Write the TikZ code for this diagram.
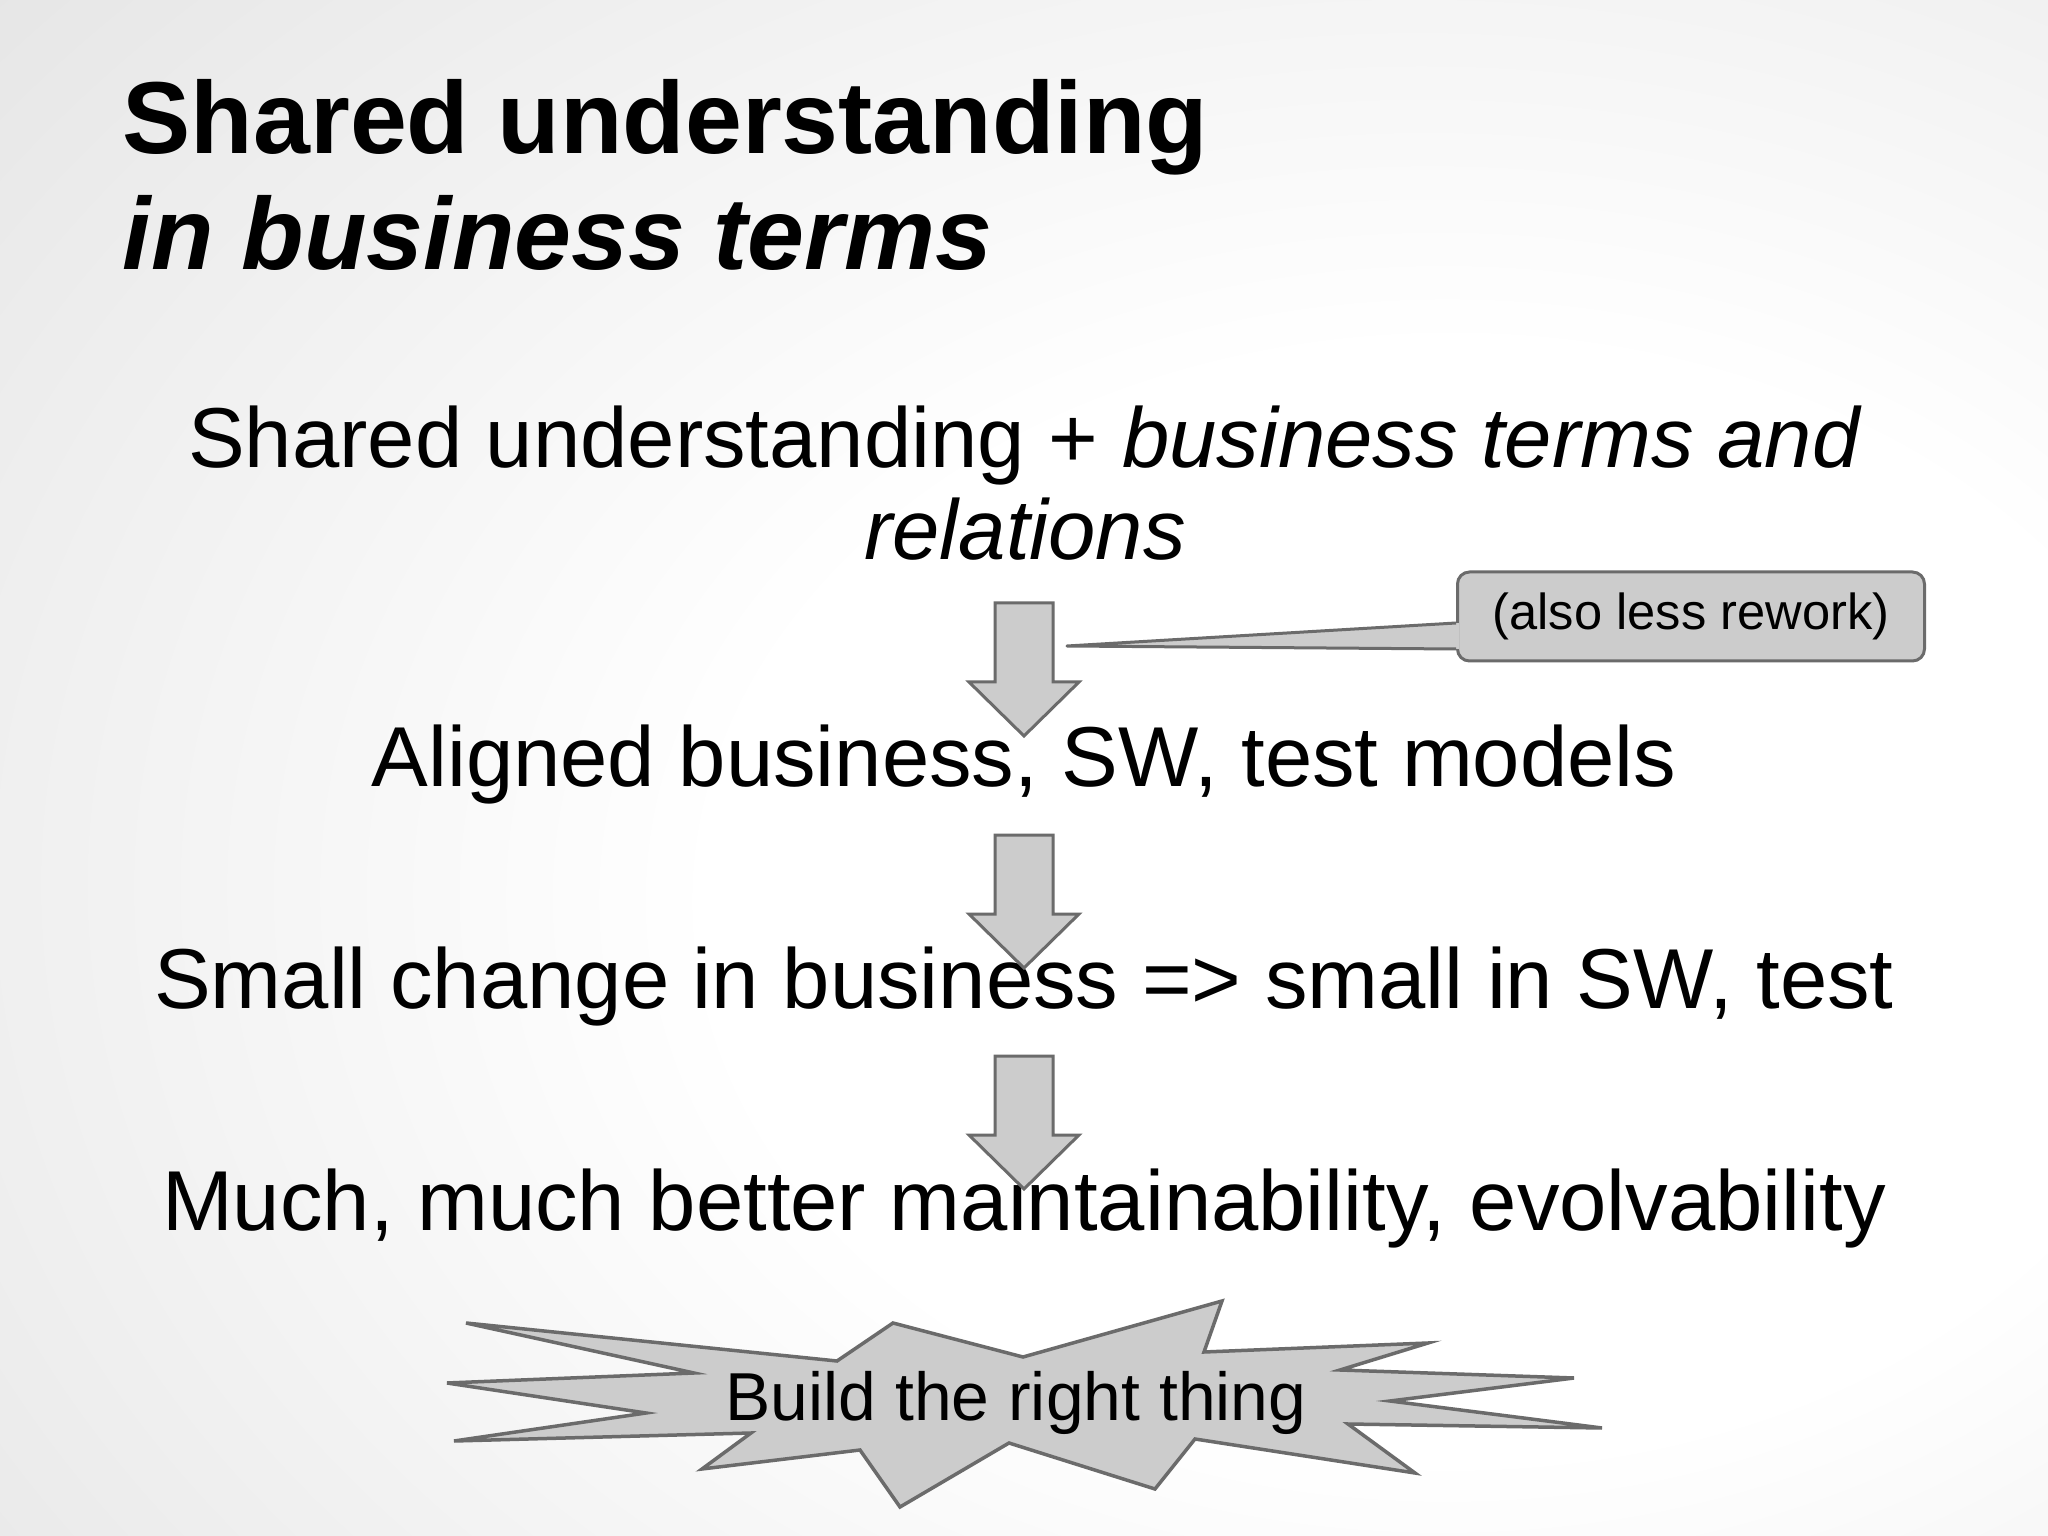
\documentclass[tikz,border=0pt]{standalone}
\usepackage{fontspec}
\setmainfont{Liberation Sans}
\usetikzlibrary{calc}
\definecolor{shapefill}{HTML}{CCCCCC}
\definecolor{shapeline}{HTML}{6B6B6B}
\newcommand{\sldw}{20.48}
\newcommand{\sldh}{15.36}
\newcommand{\midx}{10.24}
\newcommand{\arwshw}{0.29cm}
\newcommand{\arwhhw}{0.55cm}
\newcommand{\arwhs}{0.26cm}
\newcommand{\arwsl}{0.79cm}
\newcommand{\arwhl}{0.54cm}
\newcommand{\blkarrow}[1]{
  \draw[blkarrow] (#1) ++(-\arwshw,0) -- ++(0,-\arwsl) -- ++(-\arwhs,0)
    -- ++(\arwhhw,-\arwhl) -- ++(\arwhhw,\arwhl) -- ++(-\arwhs,0)
    -- ++(0,\arwsl) -- cycle;}
\pgfdeclareradialshading{slidebg}{\pgfpoint{12bp}{-5bp}}{
  color(0bp)=(white); color(18bp)=(white); color(50bp)=(black!12);
  color(80bp)=(black!22); color(140bp)=(black!22)}
\tikzset{
  slidetitle/.style={font=\fontsize{29.1pt}{34pt}\selectfont\bfseries,
    anchor=base west},
  bodyline/.style={font=\fontsize{24.2pt}{29pt}\selectfont},
  blkarrow/.style={fill=shapefill, draw=shapeline, line width=0.03cm,
    line join=miter},
  notebox/.style={anchor=center, fill=shapefill, draw=shapeline,
    line width=0.03cm, rounded corners=0.12cm,
    font=\fontsize{14.4pt}{17pt}\selectfont},
  noteline/.style={draw=shapeline, line width=0.03cm, line join=round},
  burst/.style={fill=shapefill, draw=shapeline, line width=0.035cm,
    line join=miter},
  burstlabel/.style={font=\fontsize{19.3pt}{23pt}\selectfont}
}

\begin{document}
\begin{tikzpicture}[anchor=base, inner sep=0pt]
    \shade[shading=slidebg] (0,0) rectangle (\sldw,-\sldh);

    \node[slidetitle] (ttla) at (1.22,-1.54) {Shared understanding};
    \node[slidetitle] (ttlb) at (1.22,-2.70) {\itshape in business terms};

    \node[bodyline] (sharedu) at (\midx+0.01,-4.68)
      {Shared understanding + \textit{business terms and}};
    \node[bodyline] (relat) at (\midx+0.01,-5.60) {\textit{relations}};
    \node[bodyline] (aligned) at (\midx,-7.86)
      {Aligned business, SW, test models};
    \node[bodyline] (smallch) at (\midx,-10.08)
      {Small change in business => small in SW, test};
    \node[bodyline] (muchbet) at (\midx,-12.30)
      {Much, much better maintainability, evolvability};

    \coordinate (arwa) at (\midx,-6.03);
    \coordinate (arwb) at (\midx,-8.35);
    \coordinate (arwc) at (\midx,-10.56);
    \blkarrow{arwa}
    \blkarrow{arwb}
    \blkarrow{arwc}

    \node[notebox, minimum width=4.67cm, minimum height=0.89cm] (note)
      at (16.91,-6.165) {(also less rework)};
    \coordinate (notetip) at (10.67,-6.46);
    \coordinate (notepa) at ($(note.west)+(0,-0.065)$);
    \coordinate (notepb) at ($(note.west)+(0,-0.325)$);
    \fill[shapefill] (notetip) -- ($(notepa)+(0.03,0)$)
      -- ($(notepb)+(0.03,0)$) -- cycle;
    \draw[noteline] (notepa) -- (notetip) -- (notepb);

    \draw[burst] (4.66,-13.23) -- (8.37,-13.61) -- (8.93,-13.23)
      -- (10.23,-13.57) -- (12.22,-13.01) -- (12.04,-13.52)
      -- (14.28,-13.43) -- (13.40,-13.70) -- (15.74,-13.78)
      -- (13.90,-14.01) -- (16.02,-14.28) -- (13.48,-14.24)
      -- (14.15,-14.73) -- (11.95,-14.39) -- (11.55,-14.89)
      -- (10.09,-14.43) -- (9.00,-15.07) -- (8.60,-14.50)
      -- (7.02,-14.69) -- (7.51,-14.33) -- (4.54,-14.41)
      -- (6.46,-14.13) -- (4.47,-13.83) -- (6.94,-13.73) -- cycle;
    \node[burstlabel] (build) at (10.16,-14.20) {Build the right thing};
  \end{tikzpicture}
\end{document}
